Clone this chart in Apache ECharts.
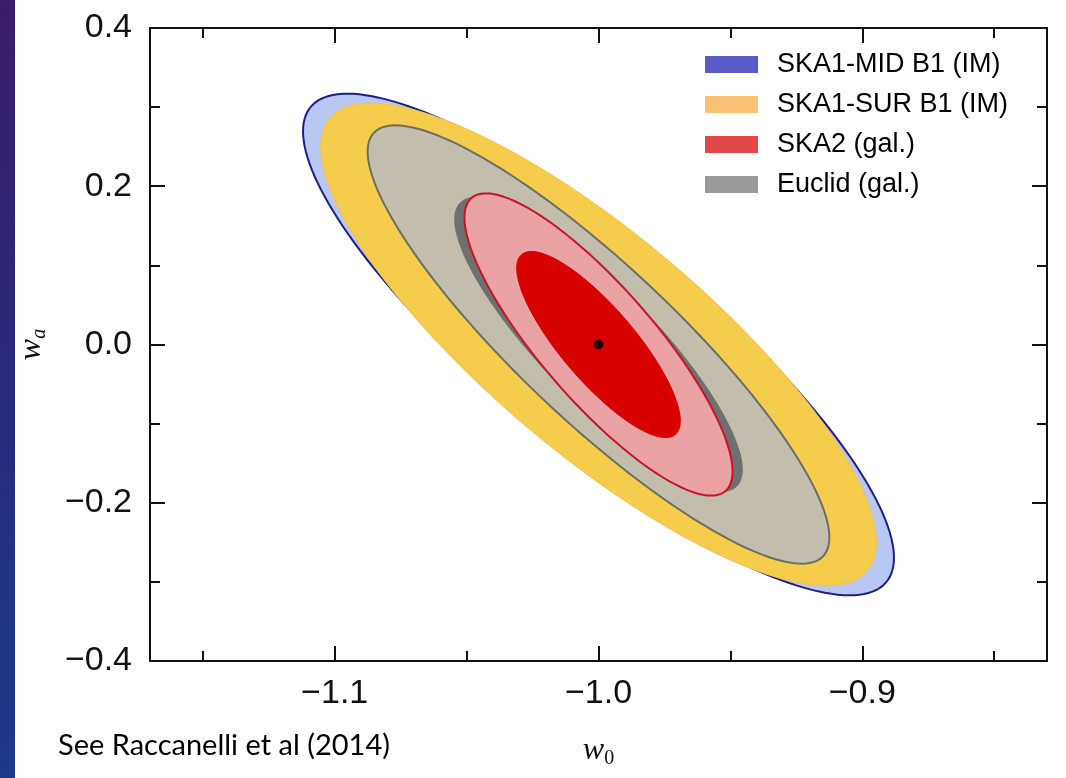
<!DOCTYPE html>
<html>
<head>
<meta charset="utf-8">
<script src="https://cdn.jsdelivr.net/npm/echarts@6/dist/echarts.min.js"></script>
<style>
  html, body { margin: 0; padding: 0; background: #ffffff; }
  #chart { width: 1066px; height: 778px; }
</style>
</head>
<body>
<div id="chart"></div>
<script>
// ---- data ----
const experiments = ['SKA1-MID B1 (IM)', 'SKA1-SUR B1 (IM)', 'SKA2 (gal.)', 'Euclid (gal.)'];
const fiducial = [-1.0, 0.0];                 // [w0, wa]
// each contour: [half-extent in w0, half-extent in wa, correlation]
const midContours    = [[0.112, 0.317, -0.85]];
const surContours    = [[0.1053, 0.305, -0.82]];
const euclidContours = [[0.0875, 0.277, -0.88], [0.0545, 0.186, -0.85]];
const ska2Contours   = [[0.0508, 0.191, -0.84], [0.031, 0.1176, -0.82]];
const w0Range = [-1.17, -0.83];
const waRange = [-0.4, 0.4];
const w0MajorTicks = [-1.1, -1.0, -0.9];
const w0MinorTicks = [-1.15, -1.05, -0.95, -0.85];
const waInterval = 0.2;

// ---- styles ----
const legendColors = ['#5b5bc6', '#f8c272', '#e0484c', '#9a9a9a'];
const midStyle    = [{ fill: '#b9c8f2', stroke: '#1e1e8a', lineWidth: 2 }];
const surStyle    = [{ fill: '#f6cc4c', stroke: '#f3c24a', lineWidth: 1 }];
const euclidStyle = [{ fill: '#c3bdae', stroke: '#6c6f60', lineWidth: 2 },
                     { fill: '#6e7070', stroke: '#6e7070', lineWidth: 1 }];
const ska2Style   = [{ fill: '#eaa2a5', stroke: '#c8142a', lineWidth: 2 },
                     { fill: '#d90000', stroke: '#d40000', lineWidth: 1 }];

function contourRenderer(styles) {
  return function (params, api) {
    const a = api.value(0), b = api.value(1), r = api.value(2);
    const s = Math.sqrt(1 - r * r);
    const pts = [];
    const N = 180;
    for (let i = 0; i < N; i++) {
      const t = 2 * Math.PI * i / N;
      const x = fiducial[0] + a * Math.cos(t);
      const y = fiducial[1] + b * (r * Math.cos(t) + s * Math.sin(t));
      pts.push(api.coord([x, y]));
    }
    const st = styles[params.dataIndex];
    return {
      type: 'polygon',
      shape: { points: pts },
      style: { fill: st.fill, stroke: st.stroke, lineWidth: st.lineWidth }
    };
  };
}

const fmt = v => (v < 0 ? '\u2212' : '') + Math.abs(v).toFixed(1);
const tickFont = { fontFamily: 'Liberation Sans', fontSize: 34, color: '#111' };
const gridRect = { left: 150, right: 19, top: 28, bottom: 117 };

const chart = echarts.init(document.getElementById('chart'), null, { renderer: 'canvas' });
chart.setOption({
  backgroundColor: '#ffffff',
  animation: false,
  graphic: [{
    type: 'rect', left: 0, top: 0, z: -10,
    shape: { width: 15, height: 778 },
    style: {
      fill: new echarts.graphic.LinearGradient(0, 0, 0, 1, [
        { offset: 0, color: '#3b1e6d' },
        { offset: 0.5, color: '#2a2b7c' },
        { offset: 1, color: '#1c3a88' }
      ])
    }
  }, {
    type: 'text', left: 58, top: 731,
    style: { text: 'See Raccanelli et al (2014)', fontFamily: 'Lato', fontSize: 29, fill: '#000' }
  }],
  grid: [Object.assign({}, gridRect), Object.assign({}, gridRect)],
  legend: {
    orient: 'vertical', left: 700, top: 46,
    itemWidth: 53, itemHeight: 17, itemGap: 13,
    selectedMode: false, icon: 'rect',
    textStyle: { fontFamily: 'Liberation Sans', fontSize: 27, lineHeight: 25, color: '#000', padding: [0, 0, 0, 14] },
    data: experiments.map((n, i) => ({ name: n, itemStyle: { color: legendColors[i] } }))
  },
  xAxis: [{
    type: 'value', gridIndex: 0, position: 'bottom', min: w0Range[0], max: w0Range[1],
    name: '{w|w}{s|0}', nameLocation: 'middle', nameGap: 72,
    nameTextStyle: { rich: {
      w: { fontFamily: 'Liberation Serif', fontStyle: 'italic', fontSize: 32, color: '#111' },
      s: { fontFamily: 'Liberation Serif', fontSize: 20, color: '#111', padding: [16, 0, 0, 0] } } },
    splitLine: { show: false },
    axisLine: { onZero: false, lineStyle: { color: '#111', width: 2 } },
    axisTick: { inside: true, length: 15, lineStyle: { color: '#111', width: 2 }, customValues: w0MajorTicks },
    axisLabel: Object.assign({ margin: 16, formatter: fmt, customValues: w0MajorTicks }, tickFont)
  }, {
    type: 'value', gridIndex: 0, position: 'top', min: w0Range[0], max: w0Range[1],
    splitLine: { show: false },
    axisLine: { onZero: false, lineStyle: { color: '#111', width: 2 } },
    axisTick: { inside: true, length: 15, lineStyle: { color: '#111', width: 2 }, customValues: w0MajorTicks },
    axisLabel: { show: false }
  }, {
    type: 'value', gridIndex: 1, position: 'bottom', min: w0Range[0], max: w0Range[1],
    splitLine: { show: false },
    axisLine: { show: false, onZero: false },
    axisTick: { inside: true, length: 10, lineStyle: { color: '#111', width: 2 }, customValues: w0MinorTicks },
    axisLabel: { show: false }
  }, {
    type: 'value', gridIndex: 1, position: 'top', min: w0Range[0], max: w0Range[1],
    splitLine: { show: false },
    axisLine: { show: false, onZero: false },
    axisTick: { inside: true, length: 10, lineStyle: { color: '#111', width: 2 }, customValues: w0MinorTicks },
    axisLabel: { show: false }
  }],
  yAxis: [{
    type: 'value', gridIndex: 0, position: 'left', min: waRange[0], max: waRange[1], interval: waInterval,
    name: '{w|w}{s|a}', nameLocation: 'middle', nameGap: 100, nameRotate: 90,
    nameTextStyle: { rich: {
      w: { fontFamily: 'Liberation Serif', fontStyle: 'italic', fontSize: 32, color: '#111' },
      s: { fontFamily: 'Liberation Serif', fontStyle: 'italic', fontSize: 20, color: '#111', padding: [16, 0, 0, 0] } } },
    splitLine: { show: false },
    axisLine: { onZero: false, lineStyle: { color: '#111', width: 2 } },
    axisTick: { inside: true, length: 15, lineStyle: { color: '#111', width: 2 } },
    minorTick: { show: true, splitNumber: 2, length: 10, lineStyle: { color: '#111', width: 2 } },
    axisLabel: Object.assign({ margin: 18, formatter: fmt }, tickFont)
  }, {
    type: 'value', gridIndex: 0, position: 'right', min: waRange[0], max: waRange[1], interval: waInterval,
    splitLine: { show: false },
    axisLine: { onZero: false, lineStyle: { color: '#111', width: 2 } },
    axisTick: { inside: true, length: 15, lineStyle: { color: '#111', width: 2 } },
    minorTick: { show: true, splitNumber: 2, length: 10, lineStyle: { color: '#111', width: 2 } },
    axisLabel: { show: false }
  }, {
    type: 'value', gridIndex: 1, min: waRange[0], max: waRange[1], show: false
  }],
  series: [{
    name: experiments[0], type: 'custom', xAxisIndex: 0, yAxisIndex: 0,
    renderItem: contourRenderer(midStyle), data: midContours, silent: true
  }, {
    name: experiments[1], type: 'custom', xAxisIndex: 0, yAxisIndex: 0,
    renderItem: contourRenderer(surStyle), data: surContours, silent: true
  }, {
    name: experiments[3], type: 'custom', xAxisIndex: 0, yAxisIndex: 0,
    renderItem: contourRenderer(euclidStyle), data: euclidContours, silent: true
  }, {
    name: experiments[2], type: 'custom', xAxisIndex: 0, yAxisIndex: 0,
    renderItem: contourRenderer(ska2Style), data: ska2Contours, silent: true
  }, {
    type: 'scatter', xAxisIndex: 0, yAxisIndex: 0, data: [fiducial],
    symbolSize: 10, itemStyle: { color: '#000' }, silent: true, z: 5
  }]
});
</script>
</body>
</html>
